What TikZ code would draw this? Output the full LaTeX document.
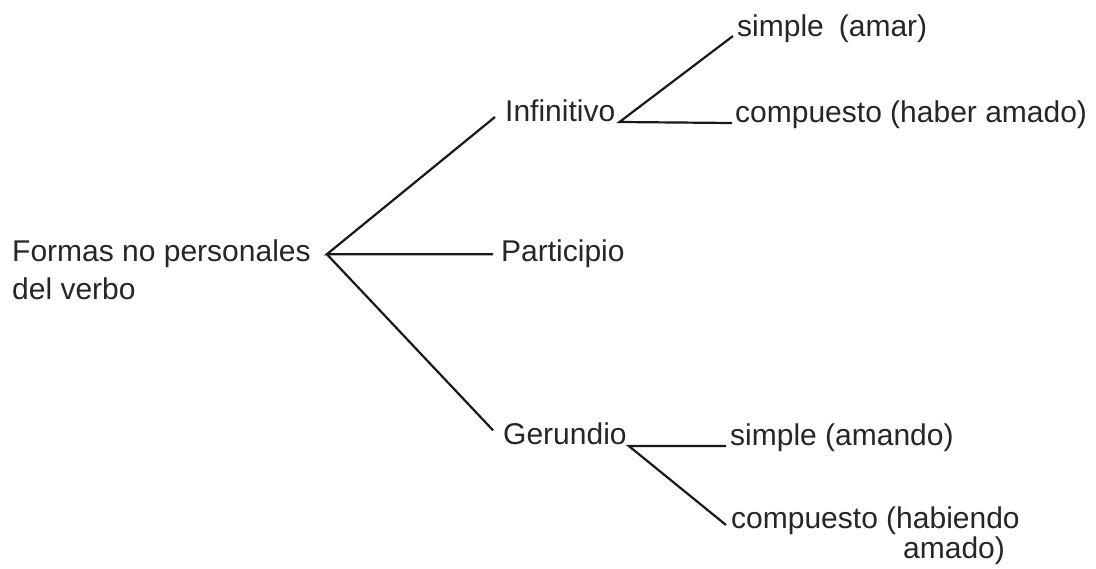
\documentclass[tikz,border=0pt]{standalone}
\usepackage{fontspec}
\setmainfont{Liberation Sans}
\begin{document}
\begin{tikzpicture}[x=1pt,y=-1pt,
  lbl/.style={inner sep=0pt, anchor=base west, text=black!85, font=\fontsize{30}{38}\selectfont},
  conn/.style={line width=2.2pt, black!90}]
\useasboundingbox (0,0) rectangle (1096,569);
\node[lbl] (f1) at (12,262) {Formas no personales};
\node[lbl] (f2) at (12,300) {del verbo};
\node[lbl] (inf) at (505,122) {Infinitivo};
\node[lbl] (par) at (501,262) {Participio};
\node[lbl] (ger) at (503,445) {Gerundio};
\node[lbl] (s1) at (737,37) {simple\hspace{0.5em}(amar)};
\node[lbl] (c1) at (735,123) {compuesto (haber amado)};
\node[lbl] (s2) at (730,446) {simple (amando)};
\node[lbl] (c2) at (731,528) {compuesto (habiendo};
\node[lbl] (c2b) at (903,558) {amado)};
\coordinate (rv) at ([xshift=16pt]f1.east);
\coordinate (iv) at ([xshift=4pt]inf.base east);
\coordinate (gv) at ([xshift=2pt,yshift=-1pt]ger.base east);
\draw[conn] ([xshift=-10pt,yshift=5pt]inf.base west) -- (rv) -- ([xshift=-8pt]par.west);
\draw[conn] (rv) -- ([xshift=-10pt,yshift=4pt]ger.west);
\draw[conn] ([xshift=-4pt,yshift=1pt]s1.base west) -- (iv) -- ([xshift=-3pt]c1.base west);
\draw[conn] ([xshift=-4pt,yshift=0pt]s2.base west) -- (gv) -- ([xshift=-5pt,yshift=3pt]c2.base west);
\end{tikzpicture}
\end{document}
